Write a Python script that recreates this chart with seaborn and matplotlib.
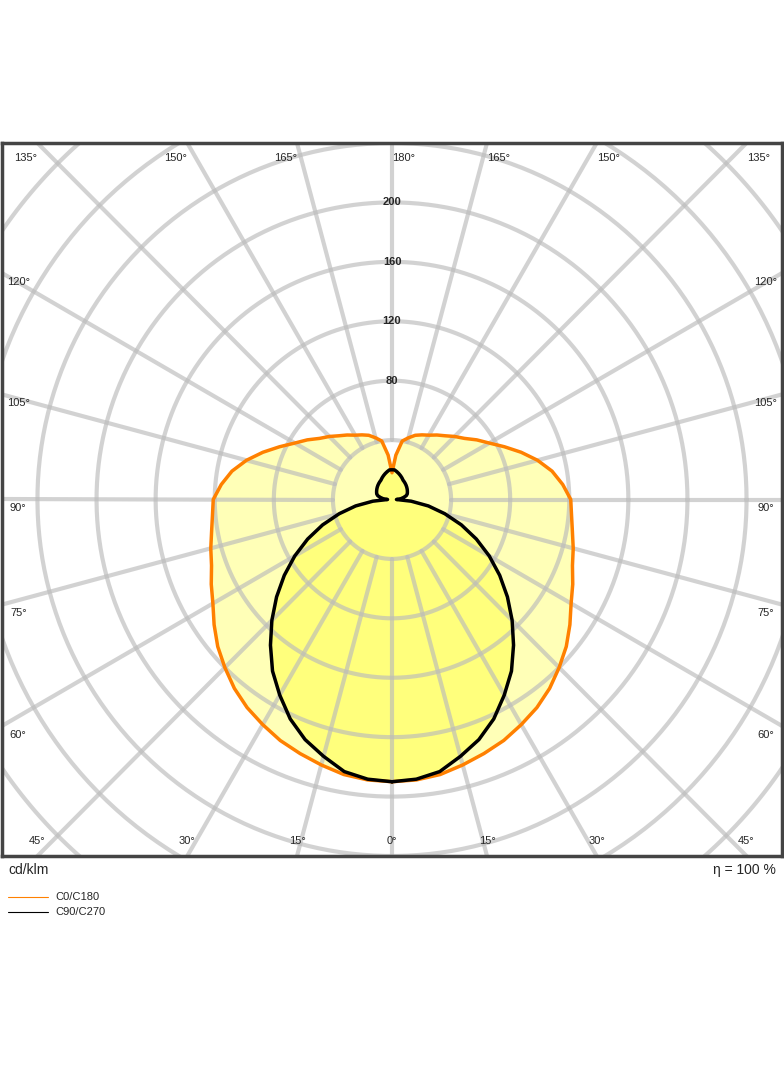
import numpy as np
import matplotlib.pyplot as plt
import seaborn as sns

sns.set_style('white')
plt.rcParams['font.family'] = ['Liberation Sans', 'DejaVu Sans']

# angles from nadir (deg) and intensities (cd/klm), mirrored to both sides
angles = [0, 5, 10, 15, 20, 25, 30, 35, 40, 45, 50, 55, 60, 65, 70, 75, 80, 85, 90,
          95, 100, 105, 110, 115, 120, 125, 130, 135, 140, 145, 150, 155, 160, 165, 170, 175, 180]
c0_c180 = [190, 189.5, 188, 185, 182, 179, 175, 171, 166, 160, 154, 147, 140, 135, 130, 127, 124, 122, 121,
           116, 110, 102, 93, 84, 76, 70, 64, 60, 56, 53, 50, 48, 46, 43, 40, 30, 18]
c90_c270 = [190, 189, 186, 179, 172, 163, 152, 141, 128, 115, 102, 89, 76, 63, 50, 37, 25, 13, 3,
            6, 8, 10, 11, 11.5, 12, 12.5, 13, 13.5, 14, 14.5, 15, 16, 17, 18, 19, 20, 20]
ring_labels = [80, 120, 160, 200]

fig = plt.figure(figsize=(7.84, 10.66), dpi=100)
ax = fig.add_axes([2/784, 1 - 856/1066, 780/784, 713/1066])
xmax, ytop, ybot = 264, 240, -240
ax.set_xlim(-xmax, xmax)
ax.set_ylim(ybot, ytop)
ax.set_xticks([]); ax.set_yticks([])
for s in ax.spines.values():
    s.set_color('#444444'); s.set_linewidth(2.5)

def xy(ang, r):
    t = np.radians(np.concatenate([ang, 360 - np.array(ang[::-1])]))
    rr = np.concatenate([r, r[::-1]])
    return rr * np.sin(t), -rr * np.cos(t)

a = np.array(angles, float)
xo, yo = xy(a, np.array(c0_c180, float))
xb, yb = xy(a, np.array(c90_c270, float))
ax.fill(xo, yo, color='#ffff99', alpha=0.7, lw=0, zorder=1)
ax.fill(xb, yb, color='#ffff55', alpha=0.6, lw=0, zorder=1)

# grid
grid = dict(color='#bbbbbb', lw=3, alpha=0.65, zorder=2)
tt = np.linspace(0, 2*np.pi, 400)
for r in range(40, 400, 40):
    ax.plot(r*np.cos(tt), r*np.sin(tt), **grid)
for d in range(0, 360, 15):
    t = np.radians(d)
    ax.plot([40*np.sin(t), 420*np.sin(t)], [-40*np.cos(t), -420*np.cos(t)], **grid)

ax.plot(xo, yo, color='#ff8000', lw=2.5, zorder=4)
ax.plot(xb, yb, color='black', lw=2.5, zorder=4)

for r in ring_labels:
    ax.text(0, r, str(r), ha='center', va='center', fontsize=8, fontweight='bold', zorder=5)

# angle labels along the frame
fs = 8
for d in [0, 15, 30, 45]:
    x = -ybot * np.tan(np.radians(d))
    for sx in ([1, -1] if d else [1]):
        ax.text(sx*x, ybot + 10, f'{d}°', ha='center', va='center', fontsize=fs)
for d in [135, 150, 165, 180]:
    x = ytop * np.tan(np.radians(180 - d))
    for sx in ([1, -1] if d != 180 else [1]):
        ax.text(sx*x + sx*8, ytop - 10, f'{d}°', ha='center', va='center', fontsize=fs)
for d in [60, 75, 90, 105, 120]:
    y = -xmax / np.tan(np.radians(d)) if d != 90 else 0
    for sx in [1, -1]:
        ax.text(sx*(xmax - 11), y - 6, f'{d}°', ha='center', va='center', fontsize=fs)

fig.text(8/784, 1 - 870/1066, 'cd/klm', ha='left', va='center', fontsize=10)
fig.text(776/784, 1 - 870/1066, 'η = 100 %', ha='right', va='center', fontsize=10)
fig.add_artist(plt.Line2D([8/784, 48/784], [1 - 897/1066]*2, color='#ff8000', lw=0.8))
fig.add_artist(plt.Line2D([8/784, 48/784], [1 - 912/1066]*2, color='black', lw=0.8))
fig.text(55/784, 1 - 897/1066, 'C0/C180', va='center', fontsize=8)
fig.text(55/784, 1 - 912/1066, 'C90/C270', va='center', fontsize=8)

fig.savefig('out.png', dpi=100)
